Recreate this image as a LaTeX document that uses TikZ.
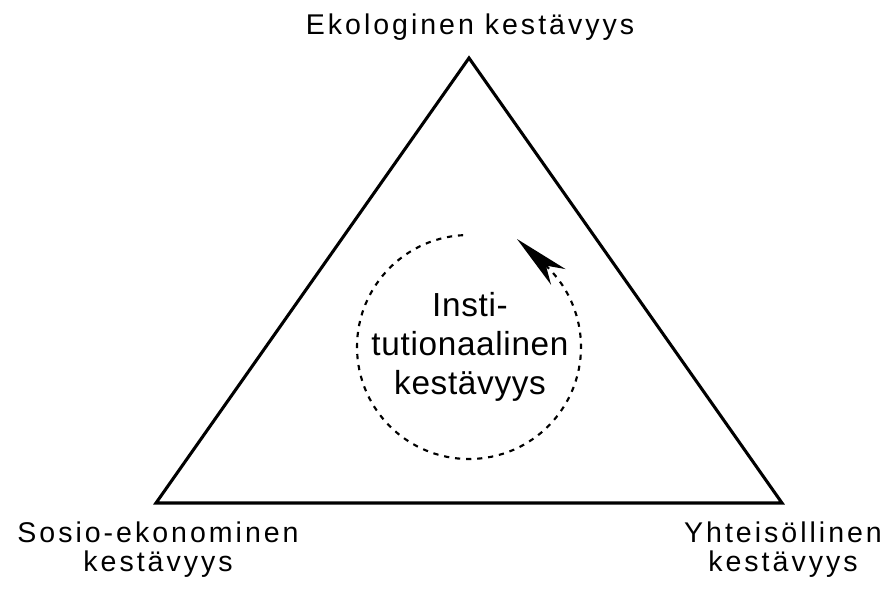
\documentclass[tikz,border=0pt]{standalone}
\usepackage{fontspec}
\setmainfont{Liberation Sans}
\newfontfamily\outerfont[LetterSpace=10.5]{Liberation Sans}
\newfontfamily\innerfont[LetterSpace=2]{Liberation Sans}
\usetikzlibrary{arrows.meta}
\begin{document}
\begin{tikzpicture}[x=0.75pt,y=-0.75pt,
  outerlabel/.style={inner sep=0pt, align=center, font=\outerfont\fontsize{21.4}{21.75}\selectfont},
  innerlabel/.style={inner sep=0pt, align=center, font=\innerfont\fontsize{25}{29.25}\selectfont},
  triline/.style={line width=2.3pt, line join=miter},
  dotline/.style={line width=1.6pt, dash pattern=on 3.9pt off 4.4pt},
  arrowline/.style={line width=1.5pt, -{Stealth[length=42pt,width=16pt,inset=12.5pt]}}]
\useasboundingbox (0,0) rectangle (885,590);
\coordinate (A) at (469,58);
\coordinate (B) at (156,503);
\coordinate (C) at (782,503);
\draw[triline] (A) -- (B) -- (C) -- cycle;
\node[outerlabel, anchor=base] (eko) at (470,34) {Ekologinen kestävyys};
\node[outerlabel] (sosio) at (158,550) {Sosio-ekonominen\\kestävyys};
\node[outerlabel] (yht) at (783,550) {Yhteisöllinen\\kestävyys};
\node[innerlabel] (inst) at (470,347) {Insti-\\tutionaalinen\\kestävyys};
\coordinate (O) at (469,347);
\draw[dotline] ([shift={(-93:112)}]O) arc[start angle=-93, end angle=-407, radius=112];
\coordinate (arcend) at ([shift={(-47:112)}]O);
\coordinate (tip) at (517,239);
\draw[arrowline] (arcend) -- (tip);
\end{tikzpicture}
\end{document}
